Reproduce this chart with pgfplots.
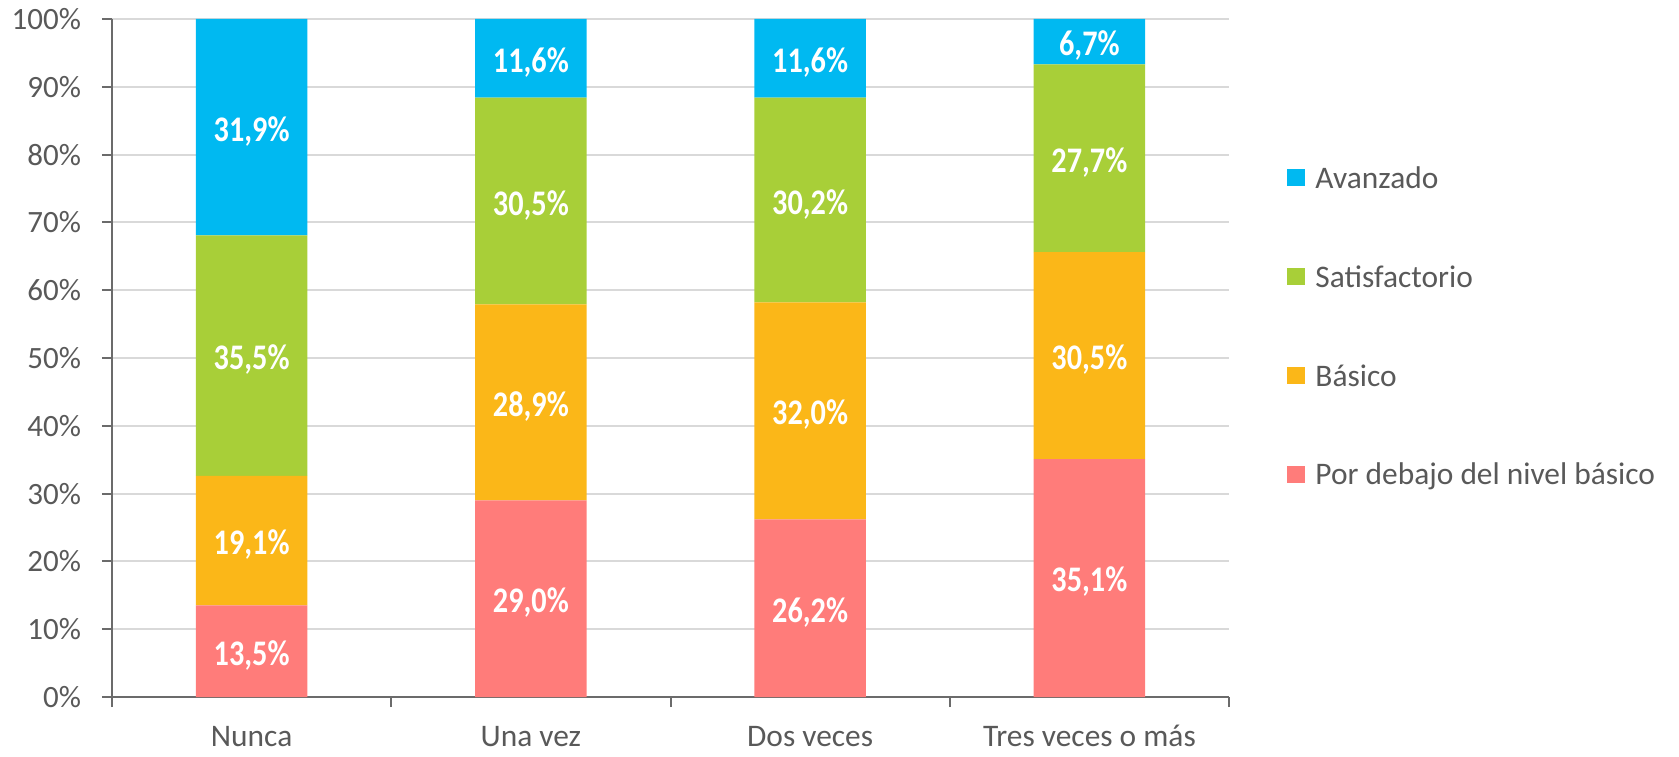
\documentclass[border=0pt]{standalone}
\usepackage{pgfplots}
\pgfplotsset{compat=1.18}
\usepackage{fontspec}
\setmainfont{Carlito}
\newfontfamily\lblfont[FakeStretch=0.84]{Carlito}
\definecolor{cBlue}{HTML}{00B9F1}
\definecolor{cGreen}{HTML}{A8CF38}
\definecolor{cOrange}{HTML}{FBB718}
\definecolor{cPink}{HTML}{FF7C7A}
\definecolor{axcol}{HTML}{6B6B6B}
\definecolor{gridcol}{HTML}{D9D9D9}
\definecolor{txtcol}{HTML}{595959}
\pgfplotsset{commonax/.style={
  at={(0pt,0pt)}, anchor=south west, scale only axis,
  width=558.5pt, height=339pt,
  xmin=-0.5, xmax=3.5, ymin=0, ymax=100}}
\begin{document}
\begin{tikzpicture}
\path[use as bounding box] (-56pt,-29.5pt) rectangle (783.5pt,348.5pt);
\begin{axis}[
  commonax,
  ybar stacked, bar width=0.4,
  axis x line*=bottom, axis y line*=left,
  axis line style={draw=axcol, line width=1pt},
  xtick={-0.5,0.5,1.5,2.5,3.5}, xticklabels={},
  extra x ticks={0,1,2,3},
  extra x tick labels={Nunca,Una vez,Dos veces,Tres veces o más},
  extra x tick style={major tick length=0pt, xticklabel style={yshift=-11pt, text height=10pt, font=\fontsize{15.7}{17}\selectfont}},
  ytick={0,10,...,100},
  yticklabel={\pgfmathprintnumber{\tick}\%},
  yticklabel style={xshift=-7pt},
  ymajorgrids, grid style={draw=gridcol, line width=1pt},
  tick align=outside, major tick length=5pt,
  tick style={draw=axcol, line width=1pt},
  ticklabel style={font=\fontsize{15.5}{17}\selectfont, text=txtcol},
  /pgf/number format/assume math mode=true,
  reverse legend,
  legend style={draw=none, fill=none, at={(1.052,0.545)}, anchor=west, inner sep=0pt,
    font=\fontsize{15.7}{17}\selectfont, text=txtcol, row sep=33pt},
  legend cell align=left,
  legend image code/.code={\fill[#1,draw=none] (0pt,-3.5pt) rectangle (9pt,5pt); \path (12pt,0pt);},
]
\addplot[fill=cPink, draw=none] coordinates {(0,13.5) (1,29.0) (2,26.2) (3,35.1)};
\addplot[fill=cOrange, draw=none] coordinates {(0,19.1) (1,28.9) (2,32.0) (3,30.5)};
\addplot[fill=cGreen, draw=none] coordinates {(0,35.5) (1,30.5) (2,30.2) (3,27.7)};
\addplot[fill=cBlue, draw=none] coordinates {(0,31.9) (1,11.6) (2,11.6) (3,6.7)};
\legend{Por debajo del nivel básico,Básico,Satisfactorio,Avanzado}
\end{axis}
\begin{axis}[
  commonax, hide axis,
  nodes near coords, point meta=explicit symbolic,
  every node near coord/.append style={anchor=center, yshift=-2pt,
    font=\lblfont\bfseries\fontsize{18}{19}\selectfont, text=white},
]
\addplot[draw=none, mark=none, only marks] coordinates {
  (0,6.75) [13,5\%] (1,14.5) [29,0\%] (2,13.1) [26,2\%] (3,17.55) [35,1\%]
  (0,23.05) [19,1\%] (1,43.45) [28,9\%] (2,42.2) [32,0\%] (3,50.35) [30,5\%]
  (0,50.35) [35,5\%] (1,73.15) [30,5\%] (2,73.3) [30,2\%] (3,79.45) [27,7\%]
  (0,84.05) [31,9\%] (1,94.2) [11,6\%] (2,94.2) [11,6\%] (3,96.65) [6,7\%]
};
\end{axis}
\end{tikzpicture}
\end{document}
